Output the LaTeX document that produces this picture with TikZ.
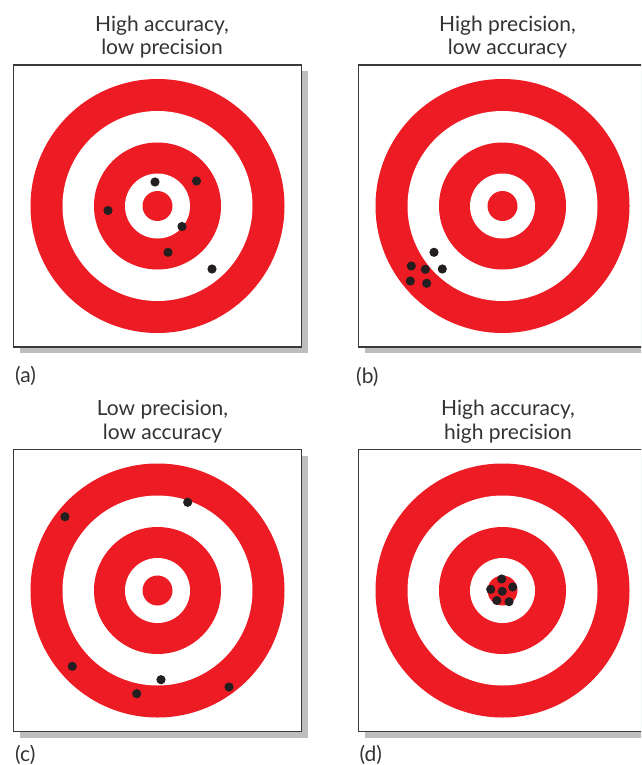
\documentclass[tikz,border=0pt]{standalone}
\usepackage{fontspec}
\setmainfont{Lato}
\definecolor{bullred}{HTML}{ED1C24}
\definecolor{shadowgray}{HTML}{BCBEC0}
\definecolor{framegray}{HTML}{3A3A3A}
\definecolor{inkgray}{HTML}{333333}
\definecolor{holeblack}{HTML}{231F20}

\begin{document}
\begin{tikzpicture}[x=1pt,y=-1pt,font=\fontsize{21}{25}\selectfont,
  ttl/.style={anchor=base,text=inkgray,inner sep=0pt},
  tag/.style={anchor=base west,text=inkgray,inner sep=0pt}]
 \useasboundingbox (0,0) rectangle (641,765);
 \clip (0,0) rectangle (641,765);
 % four framed targets
 \foreach \px/\py in {13.5/65,358.5/65,13.5/449.5,358.5/449.5}{
   \fill[shadowgray] (\px+6,\py+6) rectangle +(288,282);
   \draw[framegray,fill=white,line width=1.2pt] (\px,\py) rectangle +(288,282);
   \foreach \r/\c in {127/bullred,95/white,63.5/bullred,32.5/white,15/bullred}
     \fill[\c] (\px+144,\py+141) circle[radius=\r pt];
 }
 % shots
 \foreach \hx/\hy in {155/182,196.5/181,108/210.5,182/226.5,168/252.3,212/269,
   434/252.3,411.3/266,425.3/269.3,442.3/269,410.3/281,426.7/283.3,
   65/516.7,187.7/502.3,72.3/666.3,161/679.7,136.7/693.7,229/687,
   501.7/579,490.7/589.3,502.3/591.3,512.7/587,496.8/600.5,509/601.7}
   \fill[holeblack] (\hx,\hy) circle[radius=4.6pt];
 % titles
 \node[ttl] (ta1) at (162,31.5) {High accuracy,};
 \node[ttl] (ta2) at (162,55) {low precision};
 \node[ttl] (tb1) at (507.5,31.5) {High precision,};
 \node[ttl] (tb2) at (507.5,55) {low accuracy};
 \node[ttl] (tc1) at (162.5,415.5) {Low precision,};
 \node[ttl] (tc2) at (162.5,439) {low accuracy};
 \node[ttl] (td1) at (508,415.5) {High accuracy,};
 \node[ttl] (td2) at (508,439) {high precision};
 % panel letters
 \node[tag] (la) at (15,382) {(a)};
 \node[tag] (lb) at (356,383) {(b)};
 \node[tag] (lc) at (15,761) {(c)};
 \node[tag] (ld) at (359.5,761.5) {(d)};
\end{tikzpicture}
\end{document}
